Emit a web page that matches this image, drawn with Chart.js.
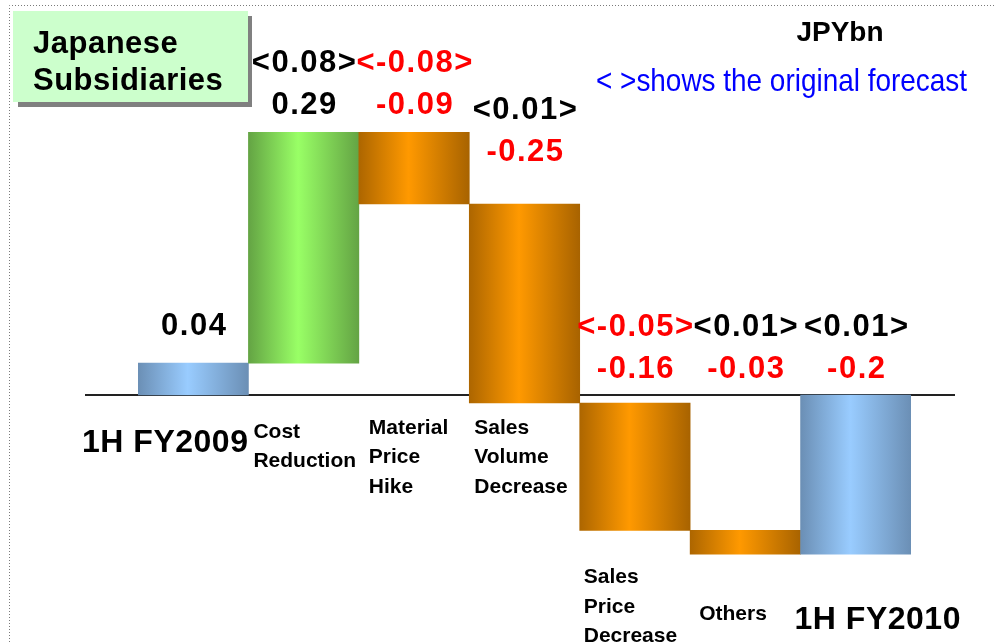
<!DOCTYPE html>
<html>
<head>
<meta charset="utf-8">
<script src="https://cdn.jsdelivr.net/npm/chart.js@4.4.0/dist/chart.umd.min.js"></script>
<style>
  html, body { margin: 0; padding: 0; background: #fff; }
  #wrap { width: 995px; height: 642px; }
</style>
</head>
<body>
<div id="wrap"><canvas id="bridge" width="995" height="642"></canvas></div>
<script>
// profit bridge, JPYbn
var categories = ['1H FY2009', 'Cost Reduction', 'Material Price Hike', 'Sales Volume Decrease', 'Sales Price Decrease', 'Others', '1H FY2010'];
var categoryLines = [['1H FY2009'], ['Cost', 'Reduction'], ['Material', 'Price', 'Hike'], ['Sales', 'Volume', 'Decrease'], ['Sales', 'Price', 'Decrease'], ['Others'], ['1H FY2010']];
var changes = [0.04, 0.29, -0.09, -0.25, -0.16, -0.03, -0.2];
var forecasts = [null, 0.08, -0.08, 0.01, -0.05, 0.01, 0.01];
var barKinds = ['total', 'up', 'down', 'down', 'down', 'down', 'total'];

var titleLines = ['Japanese', 'Subsidiaries'];
var unitText = 'JPYbn';
var noteText = '< >shows the original forecast';

// label placement (px)
var valueGap = [37, 27, 27, 52, 26, 26, 26];
var catDx = [0, 5, 10, 5, 4, 9, -6];
var catDy = [48, 37, 33, 25, 47, 60, 66];

// floating bars: totals start at zero, changes start at the running total
var ranges = [];
var running = 0;
for (var i = 0; i < changes.length; i++) {
  if (barKinds[i] === 'total') {
    ranges.push([0, changes[i]]);
    running = changes[i];
  } else {
    ranges.push([running, running + changes[i]]);
    running = running + changes[i];
  }
}

var shades = {
  total: ['#6b8fb5', '#99ccff', '#6b8fb5'],
  up: ['#64a444', '#99ff66', '#64a444'],
  down: ['#ad6600', '#ff9900', '#a86300']
};

function barFill(c) {
  var kind = barKinds[c.dataIndex];
  var x = c.chart.scales.x;
  if (!x || !x.width) return shades[kind][1];
  var cx = x.getPixelForValue(c.dataIndex);
  var half = x.width / categories.length / 2;
  var g = c.chart.ctx.createLinearGradient(cx - half, 0, cx + half, 0);
  g.addColorStop(0, shades[kind][0]);
  g.addColorStop(0.45, shades[kind][1]);
  g.addColorStop(1, shades[kind][2]);
  return g;
}

function fmt(v) {
  return String(Math.round(v * 100) / 100);
}

function drawText(ctx, text, x, y, font, color, align, spacing, maxW) {
  ctx.save();
  ctx.font = font;
  ctx.fillStyle = color;
  ctx.textAlign = align;
  ctx.textBaseline = 'middle';
  ctx.letterSpacing = (spacing || 0) + 'px';
  if (maxW) ctx.fillText(text, x, y, maxW);
  else ctx.fillText(text, x, y);
  ctx.restore();
}

var annotate = {
  id: 'annotate',
  beforeDatasetsDraw: function (chart) {
    var ctx = chart.ctx;
    var area = chart.chartArea;
    var y0 = chart.scales.y.getPixelForValue(0);
    ctx.save();
    // dotted frame
    ctx.strokeStyle = '#7a7a7a';
    ctx.lineWidth = 1;
    ctx.setLineDash([1, 2]);
    ctx.beginPath();
    ctx.moveTo(9.5, chart.height);
    ctx.lineTo(9.5, 5.5);
    ctx.lineTo(chart.width, 5.5);
    ctx.stroke();
    // zero axis
    ctx.setLineDash([]);
    ctx.strokeStyle = '#222';
    ctx.lineWidth = 2;
    ctx.beginPath();
    ctx.moveTo(area.left - 53, y0);
    ctx.lineTo(area.right + 44, y0);
    ctx.stroke();
    ctx.restore();
  },
  afterDatasetsDraw: function (chart) {
    var ctx = chart.ctx;
    var xs = chart.scales.x;
    var ys = chart.scales.y;
    var slot = xs.width / categories.length;
    var bold = 'bold 31px "Liberation Sans", Arial, sans-serif';

    for (var i = 0; i < categories.length; i++) {
      var cx = xs.getPixelForValue(i);
      var r = ranges[i];
      var top = Math.max(r[0], r[1], 0);
      var bottom = Math.min(r[0], r[1], 0);
      var vy = ys.getPixelForValue(top) - valueGap[i];

      drawText(ctx, fmt(changes[i]), cx + 1, vy, bold, changes[i] < 0 ? '#ff0000' : '#000', 'center', 1.5);
      if (forecasts[i] !== null) {
        drawText(ctx, '<' + fmt(forecasts[i]) + '>', cx + 1, vy - 42, bold,
          forecasts[i] < 0 ? '#ff0000' : '#000', 'center', 1.5);
      }

      // category text under each bar
      var lines = categoryLines[i];
      var ly = ys.getPixelForValue(bottom) + catDy[i];
      if (barKinds[i] === 'total') {
        var bigFont = 'bold 32px "Liberation Sans", Arial, sans-serif';
        if (i === 0) drawText(ctx, lines[0], cx + slot / 2, ly, bigFont, '#000', 'right', 0.5);
        else drawText(ctx, lines[0], cx - slot / 2 + catDx[i], ly, bigFont, '#000', 'left', 0.5);
      } else {
        for (var k = 0; k < lines.length; k++) {
          drawText(ctx, lines[k], cx - slot / 2 + catDx[i], ly + k * 29.5,
            'bold 21px "Liberation Sans", Arial, sans-serif', '#000', 'left', 0);
        }
      }
    }
  },
  afterDraw: function (chart) {
    var ctx = chart.ctx;
    ctx.save();
    // title box with drop shadow
    ctx.fillStyle = '#808080';
    ctx.fillRect(18, 16, 234, 91);
    ctx.fillStyle = '#ccffcc';
    ctx.fillRect(13, 11, 235, 91);
    ctx.restore();
    drawText(ctx, titleLines[0], 33, 44, 'bold 31px "Liberation Sans", Arial, sans-serif', '#000', 'left', 0.5);
    drawText(ctx, titleLines[1], 33, 81, 'bold 31px "Liberation Sans", Arial, sans-serif', '#000', 'left', 0.5);

    drawText(ctx, unitText, 840, 33, 'bold 28px "Liberation Sans", Arial, sans-serif', '#000', 'center', 0, 90);
    drawText(ctx, noteText, 596, 82, '32px "Liberation Sans", Arial, sans-serif', '#0000ff', 'left', 0, 371);
  }
};

new Chart(document.getElementById('bridge'), {
  type: 'bar',
  data: {
    labels: categories,
    datasets: [{
      data: ranges,
      backgroundColor: barFill,
      borderWidth: 0,
      barPercentage: 1,
      categoryPercentage: 1
    }]
  },
  options: {
    responsive: false,
    animation: false,
    layout: { padding: { left: 138, right: 84, top: 76.6, bottom: 8.2 } },
    scales: {
      x: { display: false },
      y: { display: false, min: -0.3, max: 0.4 }
    },
    plugins: {
      legend: { display: false },
      tooltip: { enabled: false }
    }
  },
  plugins: [annotate]
});
</script>
</body>
</html>
